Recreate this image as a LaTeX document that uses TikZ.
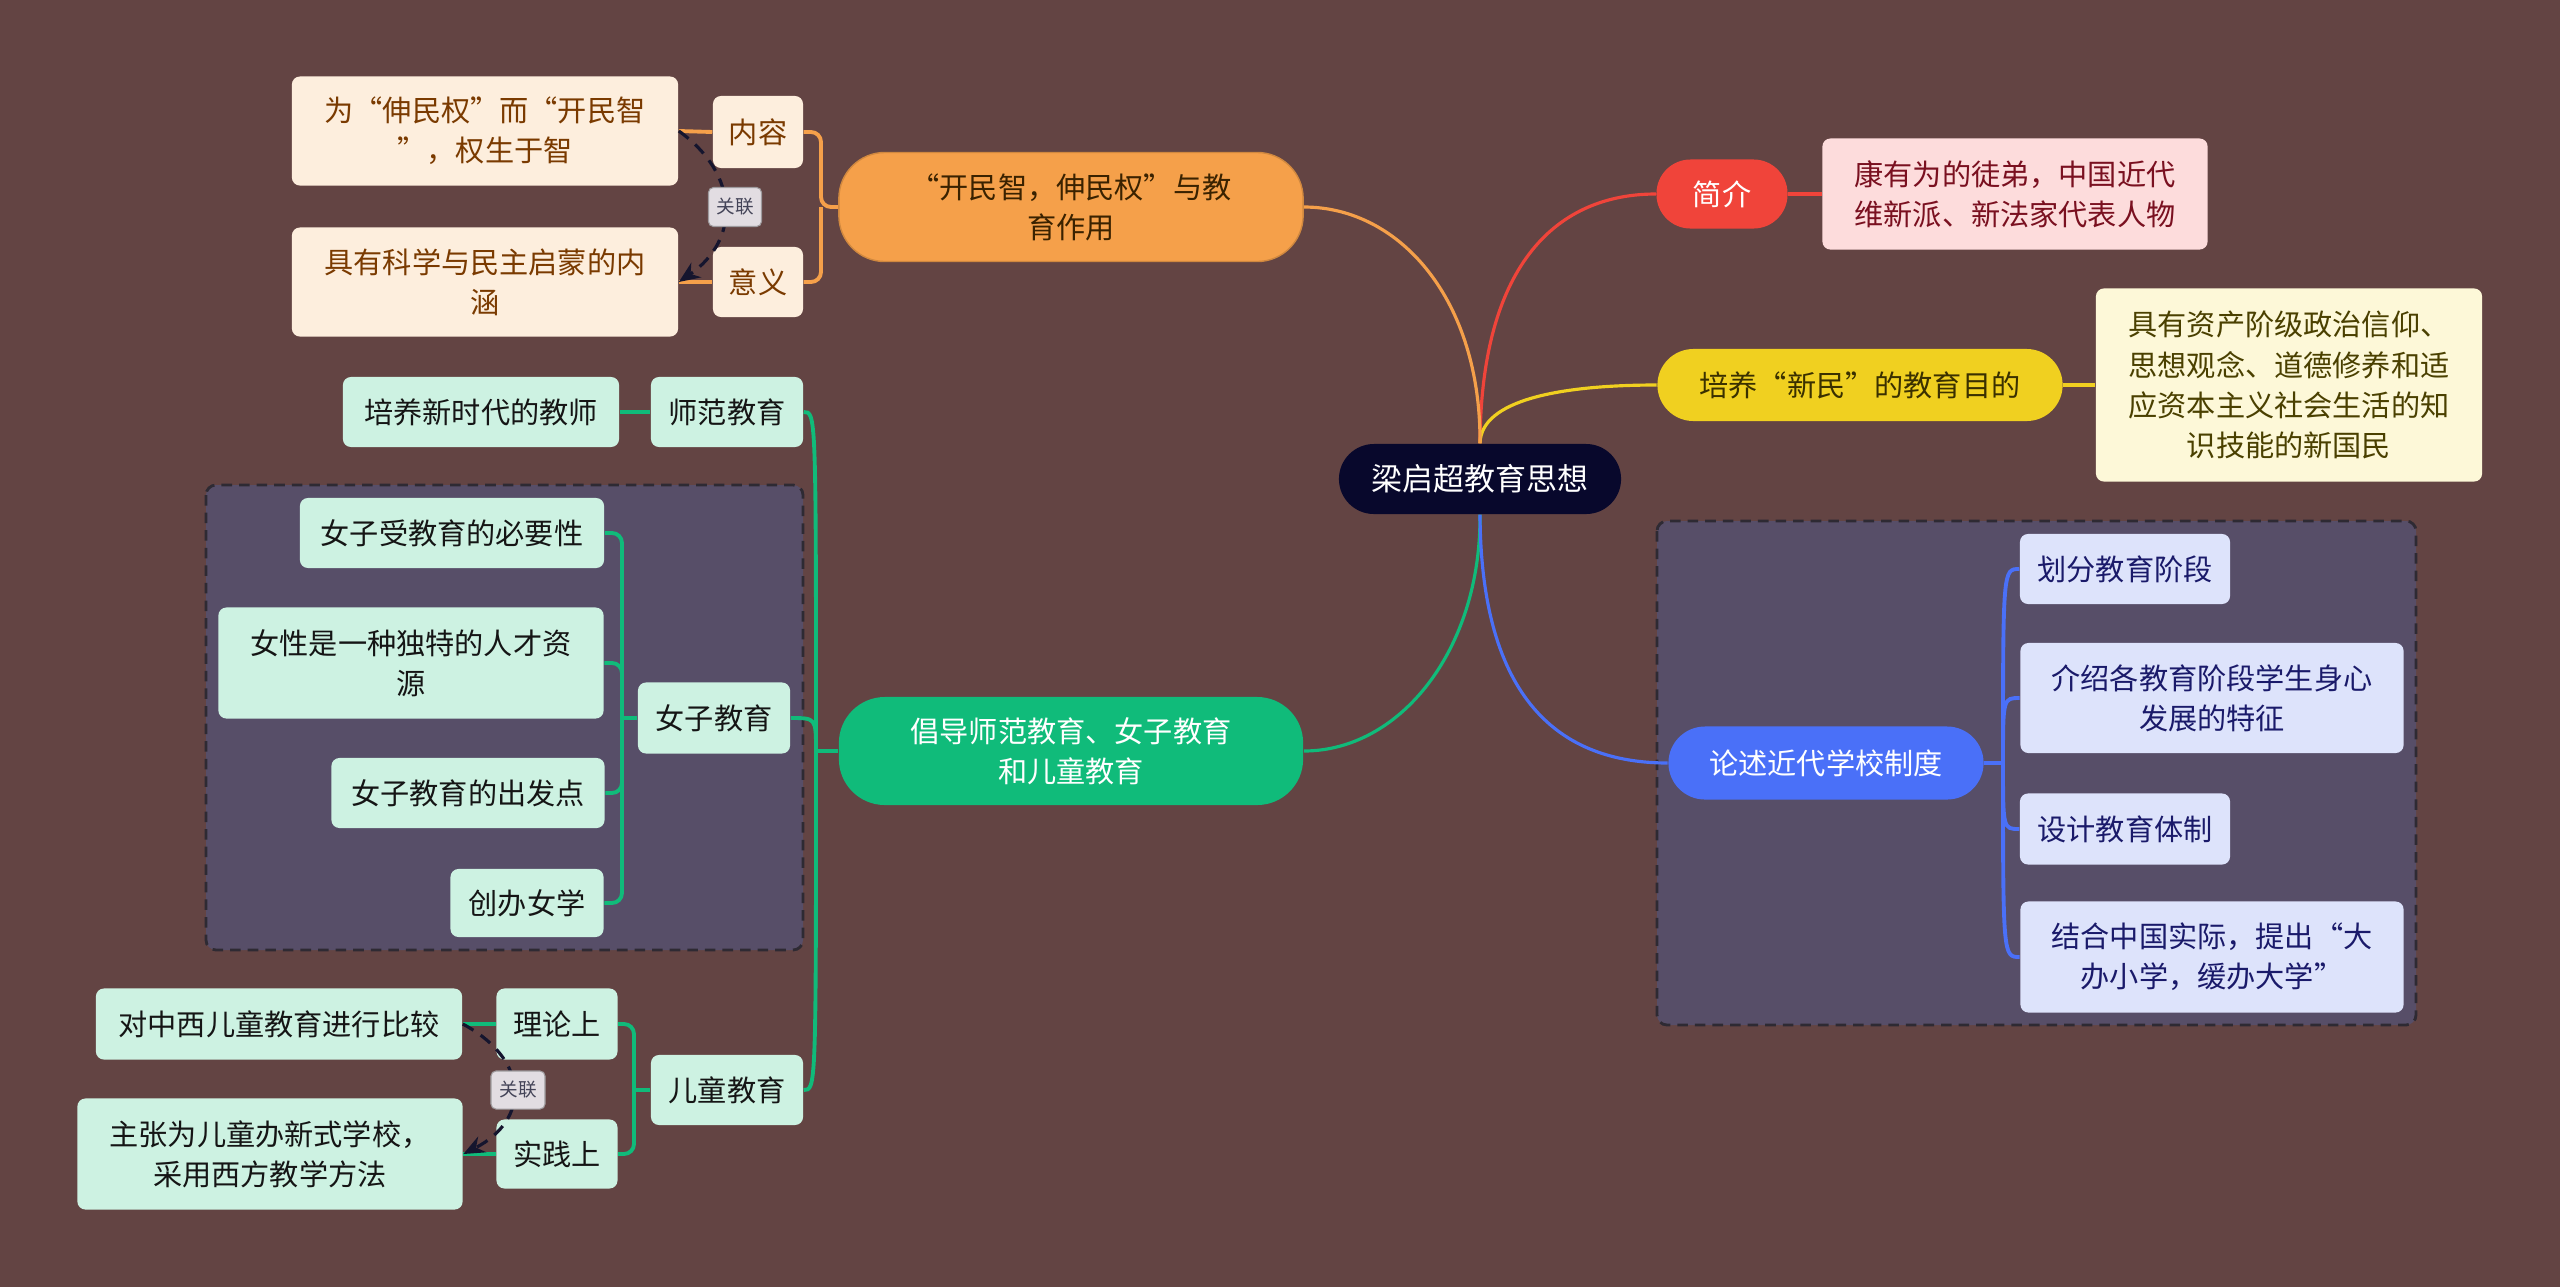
\documentclass[tikz,border=0pt]{standalone}
\usepackage{fontspec}
\setmainfont{Noto Sans CJK SC}
\usetikzlibrary{arrows.meta}
\pgfdeclarelayer{bgA}
\pgfdeclarelayer{bgB}
\pgfsetlayers{bgA,bgB,main}
\definecolor{bgc}{HTML}{634443}
\definecolor{grpc}{HTML}{574E68}
\definecolor{grpb}{HTML}{2E2A33}
\definecolor{rootc}{HTML}{08082C}
\definecolor{redc}{HTML}{F0443A}
\definecolor{pinkc}{HTML}{FDDCDC}
\definecolor{pinkt}{HTML}{7A1020}
\definecolor{yelc}{HTML}{F0D020}
\definecolor{yelt}{HTML}{3A3000}
\definecolor{lyelc}{HTML}{FDF8D8}
\definecolor{lyelt}{HTML}{4A4000}
\definecolor{bluc}{HTML}{4A70F8}
\definecolor{lbluc}{HTML}{DDE3FB}
\definecolor{lblut}{HTML}{1A1A6A}
\definecolor{orac}{HTML}{F5A04A}
\definecolor{orat}{HTML}{3A2200}
\definecolor{loraC}{HTML}{FDEEDD}
\definecolor{lorat}{HTML}{7A3A00}
\definecolor{grnc}{HTML}{10BB7A}
\definecolor{lgrnc}{HTML}{CDF2E2}
\definecolor{lgrnt}{HTML}{151515}
\definecolor{glc}{HTML}{E2DDE2}
\definecolor{arrc}{HTML}{15152E}
\tikzset{
  base/.style={align=center, inner sep=0pt, font=\fontsize{8.3pt}{11.4pt}\selectfont},
  sz/.style 2 args={minimum width=#1cm, minimum height=#2cm},
  cbox/.style={base, rounded corners=0.08cm},
  pillA/.style={base, rounded corners=0.35cm},
  pillB/.style={base, rounded corners=0.46cm},
  orabox/.style={cbox, fill=loraC, text=lorat},
  grnbox/.style={cbox, fill=lgrnc, text=lgrnt},
  blubox/.style={cbox, fill=lbluc, text=lblut},
  rel/.style={base, font=\fontsize{5.3pt}{6pt}\selectfont, fill=glc, draw=glc!70!black, line width=0.3pt, rounded corners=0.05cm, text=arrc!80},
  conn/.style={line width=0.9pt},
  brk/.style={line width=1.1pt},
  relarrow/.style={draw=arrc, line width=0.9pt, dash pattern=on 3.5pt off 2.5pt, -{Stealth[length=6pt,width=5pt]}},
  grp/.style={draw=grpb, fill=grpc, line width=0.8pt, dash pattern=on 3pt off 2pt, rounded corners=0.1cm}
}
\begin{document}
\begin{tikzpicture}[x=0.01cm,y=-0.01cm]
\begin{pgfonlayer}{bgA}
\fill[bgc] (0,0) rectangle (2560,1287);
\draw[grp] (1657,521) rectangle (2416,1025);
\draw[grp] (206,485) rectangle (803,950);
\end{pgfonlayer}
\useasboundingbox (0,0) rectangle (2560,1287);

% root
\node[pillA, sz={2.82}{0.70}, fill=rootc, text=white, font=\fontsize{8.8pt}{11.4pt}\selectfont] (root) at (1480,479) {梁启超教育思想};

% right side
\node[base, sz={1.31}{0.69}, rounded corners=0.34cm, fill=redc, text=white] (jj) at (1722,194) {简介};
\node[cbox, sz={3.85}{1.11}, fill=pinkc, text=pinkt] (jjd) at (2015,194) {康有为的徒弟，中国近代\\维新派、新法家代表人物};
\node[pillA, sz={4.05}{0.72}, rounded corners=0.36cm, fill=yelc, text=yelt] (py) at (1860,385) {培养“新民”的教育目的};
\node[cbox, sz={3.86}{1.93}, fill=lyelc, text=lyelt] (pyd) at (2289,385) {具有资产阶级政治信仰、\\思想观念、道德修养和适\\应资本主义社会生活的知\\识技能的新国民};
\node[pillA, sz={3.15}{0.73}, rounded corners=0.365cm, fill=bluc, text=white] (ls) at (1826,763) {论述近代学校制度};
\node[blubox, sz={2.10}{0.70}] (ls1) at (2125,569) {划分教育阶段};
\node[blubox, sz={3.83}{1.10}] (ls2) at (2212,698) {介绍各教育阶段学生身心\\发展的特征};
\node[blubox, sz={2.10}{0.71}] (ls3) at (2125,829) {设计教育体制};
\node[blubox, sz={3.83}{1.11}] (ls4) at (2212,957) {结合中国实际，提出“大\\办小学，缓办大学”};

% left orange
\node[pillB, sz={4.64}{1.09}, fill=orac, text=orat, draw=orac!85!black, line width=0.4pt] (kmz) at (1071,207) {“开民智，伸民权”与教\\育作用};
\node[orabox, sz={0.90}{0.72}] (nr) at (758,132) {内容};
\node[orabox, sz={0.90}{0.70}] (yy) at (758,282) {意义};
\node[orabox, sz={3.86}{1.09}] (nrd) at (485,131) {为“伸民权”而“开民智\\”，权生于智};
\node[orabox, sz={3.86}{1.09}] (yyd) at (485,282) {具有科学与民主启蒙的内\\涵};

% left green
\node[pillB, sz={4.64}{1.08}, fill=grnc, text=white] (cd) at (1071,751) {倡导师范教育、女子教育\\和儿童教育};
\node[grnbox, sz={1.52}{0.70}] (sf) at (727,412) {师范教育};
\node[grnbox, sz={2.76}{0.70}] (sfd) at (481,412) {培养新时代的教师};
\node[grnbox, sz={1.52}{0.71}] (nz) at (714,718) {女子教育};
\node[grnbox, sz={3.04}{0.70}] (nz1) at (452,533) {女子受教育的必要性};
\node[grnbox, sz={3.85}{1.11}] (nz2) at (411,663) {女性是一种独特的人才资\\源};
\node[grnbox, sz={2.73}{0.70}] (nz3) at (468,793) {女子教育的出发点};
\node[grnbox, sz={1.53}{0.68}] (nz4) at (527,903) {创办女学};
\node[grnbox, sz={1.52}{0.70}] (et) at (727,1090) {儿童教育};
\node[grnbox, sz={1.21}{0.71}] (ll) at (557,1024) {理论上};
\node[grnbox, sz={1.21}{0.69}] (sj) at (557,1154) {实践上};
\node[grnbox, sz={3.66}{0.71}] (lld) at (279,1024) {对中西儿童教育进行比较};
\node[grnbox, sz={3.85}{1.11}] (sjd) at (270,1154) {主张为儿童办新式学校，\\采用西方教学方法};

% relations (above boxes, below labels)
\draw[relarrow] (nrd.east) .. controls (740,175) and (740,240) .. (yyd.east);
\draw[relarrow] (lld.east) .. controls (530,1060) and (530,1120) .. (sjd.east);
\node[rel, sz={0.53}{0.39}] (gl1) at (735,207) {关联};
\node[rel, sz={0.54}{0.38}] (gl2) at (518,1090) {关联};

\coordinate (ob) at (821,207);
\coordinate (gb) at (816,751);
\coordinate (nb) at (622,718);
\coordinate (eb) at (634,1090);
\coordinate (bb) at (2003,763);

\begin{pgfonlayer}{bgB}
% root branches
\draw[conn, draw=redc] (root.north) .. controls (1481,260) and (1560,194) .. (jj.west);
\draw[conn, draw=yelc] (root.north) .. controls (1481,400) and (1560,385) .. (py.west);
\draw[conn, draw=orac] (root.north) .. controls (1481,300) and (1400,207) .. (kmz.east);
\draw[conn, draw=grnc] (root.south) .. controls (1481,650) and (1400,751) .. (cd.east);
\draw[conn, draw=bluc] (root.south) .. controls (1481,700) and (1560,763) .. (ls.west);
% right details
\draw[brk, draw=redc] (jj.east) -- (jjd.west);
\draw[brk, draw=yelc] (py.east) -- (pyd.west);
\draw[brk, draw=bluc] (ls.east) -- (bb);
\foreach \n in {ls1,ls2,ls3,ls4} \draw[brk, draw=bluc] (bb) .. controls (bb|-\n.west) .. (\n.west);
% orange
\draw[brk, draw=orac, rounded corners=0.1cm] (kmz.west) -- (ob) |- (nr.east);
\draw[brk, draw=orac, rounded corners=0.1cm] (ob) |- (yy.east);
\draw[brk, draw=orac] (nrd.east) -- (nr.west);
\draw[brk, draw=orac] (yyd.east) -- (yy.west);
% green
\draw[brk, draw=grnc] (cd.west) -- (gb);
\foreach \n in {sf,nz,et} \draw[brk, draw=grnc] (gb) .. controls (gb|-\n.east) .. (\n.east);
\draw[brk, draw=grnc] (sfd.east) -- (sf.west);
\draw[brk, draw=grnc] (nz.west) -- (nb);
\foreach \n in {nz1,nz2,nz3,nz4} \draw[brk, draw=grnc, rounded corners=0.1cm] (nb) |- (\n.east);
\draw[brk, draw=grnc] (et.west) -- (eb);
\draw[brk, draw=grnc, rounded corners=0.1cm] (eb) |- (ll.east);
\draw[brk, draw=grnc, rounded corners=0.1cm] (eb) |- (sj.east);
\draw[brk, draw=grnc] (lld.east) -- (ll.west);
\draw[brk, draw=grnc] (sjd.east) -- (sj.west);
\end{pgfonlayer}
\end{tikzpicture}
\end{document}
